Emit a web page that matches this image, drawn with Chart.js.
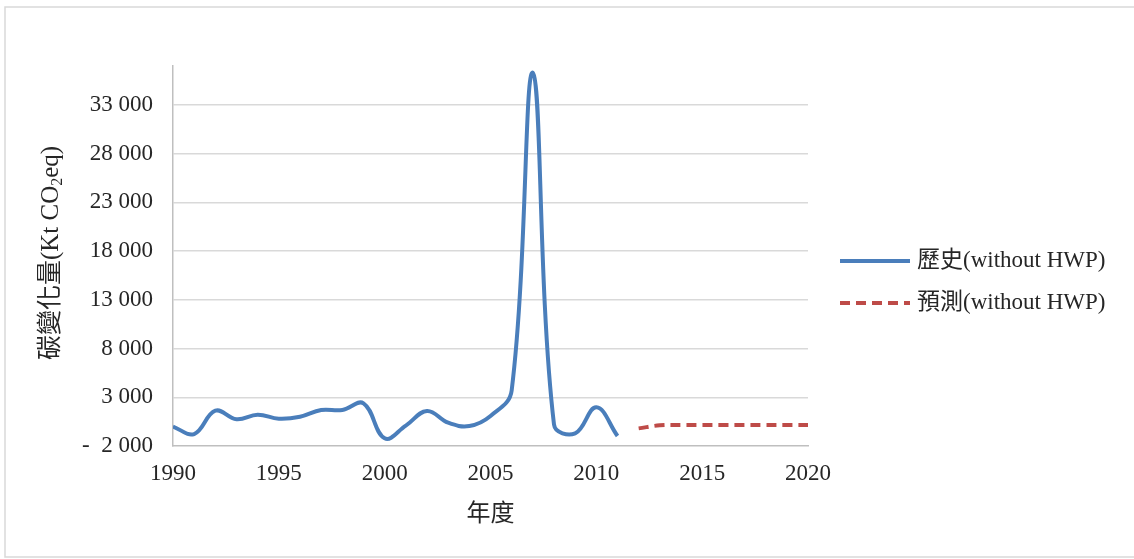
<!DOCTYPE html>
<html>
<head>
<meta charset="utf-8">
<script src="https://cdn.jsdelivr.net/npm/chart.js@4/dist/chart.umd.min.js"></script>
<style>
  html, body { margin: 0; padding: 0; background: #fff; }
  #wrap { width: 1134px; height: 559px; }
</style>
</head>
<body>
<div id="wrap"><canvas id="c" width="1134" height="559"></canvas></div>
<script>
// Historical carbon change, 1990-2011 (Kt CO2 eq)
const histYears = [1990, 1991, 1992, 1993, 1994, 1995, 1996, 1997, 1998, 1999, 2000,
                   2001, 2002, 2003, 2004, 2005, 2006, 2007, 2008, 2009, 2010, 2011];
const histValues = [0, -770, 1620, 740, 1210, 800, 1000, 1690, 1690, 2380, -1210,
                     90, 1600, 390, 50, 1080, 3700, 36300, 200, -700, 1970, -970];

// Projected carbon change, 2012-2020
const projYears = [2012, 2013, 2014, 2015, 2016, 2017, 2018, 2019, 2020];
const projValues = [-190, 120, 150, 150, 150, 150, 150, 150, 150];

// Axis ticks
const yTicks = [-2000, 3000, 8000, 13000, 18000, 23000, 28000, 33000];
const xTicks = [1990, 1995, 2000, 2005, 2010, 2015, 2020];

const seriesLabels = ['歷史(without HWP)', '預測(without HWP)'];
const xTitle = '年度';

const SERIF = "'Liberation Serif', 'Noto Sans CJK TC', serif";
const TEXT = '#262626';

function fmtY(v) {
  const s = Math.abs(v).toString().replace(/\B(?=(\d{3})+(?!\d))/g, ' ');
  return v < 0 ? '-  ' + s : s;
}

const decor = {
  id: 'decor',
  beforeDraw(chart) {
    const ctx = chart.ctx;
    ctx.save();
    ctx.fillStyle = '#fff';
    ctx.fillRect(0, 0, chart.width, chart.height);
    ctx.strokeStyle = '#d9d9d9';
    ctx.lineWidth = 1.5;
    ctx.strokeRect(5, 7, chart.width + 10, 550);
    ctx.restore();
  },
  afterDraw(chart) {
    const ctx = chart.ctx;
    const area = chart.chartArea;
    ctx.save();
    ctx.fillStyle = TEXT;

    // x-axis title
    ctx.font = '24px ' + SERIF;
    ctx.textAlign = 'center';
    ctx.textBaseline = 'middle';
    ctx.fillText(xTitle, (area.left + area.right) / 2, 515);

    // y-axis title with subscript
    const parts = [
      { t: '碳變化量(Kt CO', size: 25, dy: 0 },
      { t: '2', size: 16, dy: 7 },
      { t: 'eq)', size: 25, dy: 0 }
    ];
    let total = 0;
    parts.forEach(p => { ctx.font = p.size + 'px ' + SERIF; p.w = ctx.measureText(p.t).width; total += p.w; });
    ctx.translate(51, 253);
    ctx.rotate(-Math.PI / 2);
    ctx.textAlign = 'left';
    let x = -total / 2;
    parts.forEach(p => {
      ctx.font = p.size + 'px ' + SERIF;
      ctx.fillText(p.t, x, p.dy);
      x += p.w;
    });
    ctx.setTransform(1, 0, 0, 1, 0, 0);

    // legend
    const rows = [261, 303];
    chart.data.datasets.forEach((ds, i) => {
      const y = rows[i];
      ctx.beginPath();
      ctx.strokeStyle = ds.borderColor;
      ctx.lineWidth = ds.borderWidth;
      ctx.setLineDash(ds.borderDash || []);
      ctx.moveTo(840, y);
      ctx.lineTo(910, y);
      ctx.stroke();
      ctx.setLineDash([]);
      ctx.font = '23px ' + SERIF;
      ctx.fillStyle = TEXT;
      ctx.textAlign = 'left';
      ctx.textBaseline = 'middle';
      ctx.fillText(ds.label, 917, y);
    });
    ctx.restore();
  }
};

new Chart(document.getElementById('c'), {
  type: 'line',
  data: {
    datasets: [
      {
        label: seriesLabels[0],
        data: histYears.map((yr, i) => ({ x: yr, y: histValues[i] })),
        borderColor: '#4a7ebb',
        borderWidth: 4,
        tension: 0.4,
        pointRadius: 0,
        fill: false
      },
      {
        label: seriesLabels[1],
        data: projYears.map((yr, i) => ({ x: yr, y: projValues[i] })),
        borderColor: '#be4b48',
        borderWidth: 4,
        borderDash: [10, 6],
        tension: 0.4,
        pointRadius: 0,
        fill: false
      }
    ]
  },
  options: {
    responsive: false,
    animation: false,
    devicePixelRatio: 1,
    layout: { padding: { left: 0, right: 326, top: 66, bottom: 0 } },
    plugins: {
      legend: { display: false },
      tooltip: { enabled: false }
    },
    scales: {
      x: {
        type: 'linear',
        min: 1990,
        max: 2020,
        afterBuildTicks: s => { s.ticks = xTicks.map(v => ({ value: v })); },
        afterFit: s => { s.height = 113; },
        grid: { display: false, drawTicks: false },
        border: { color: '#bfbfbf', width: 1.5 },
        ticks: {
          padding: 14,
          color: TEXT,
          font: { family: SERIF, size: 23 },
          maxRotation: 0,
          callback: v => String(v)
        }
      },
      y: {
        min: -2000,
        max: 37000,
        afterBuildTicks: s => { s.ticks = yTicks.map(v => ({ value: v })); },
        afterFit: s => { s.width = 173; },
        grid: {
          drawTicks: false,
          color: c => (c.tick && c.tick.value === -2000) ? 'rgba(0,0,0,0)' : '#d9d9d9',
          lineWidth: 1.5
        },
        border: { color: '#bfbfbf', width: 1.5 },
        ticks: {
          padding: 20,
          color: TEXT,
          font: { family: SERIF, size: 23 },
          callback: v => fmtY(v)
        }
      }
    }
  },
  plugins: [decor]
});
</script>
</body>
</html>
